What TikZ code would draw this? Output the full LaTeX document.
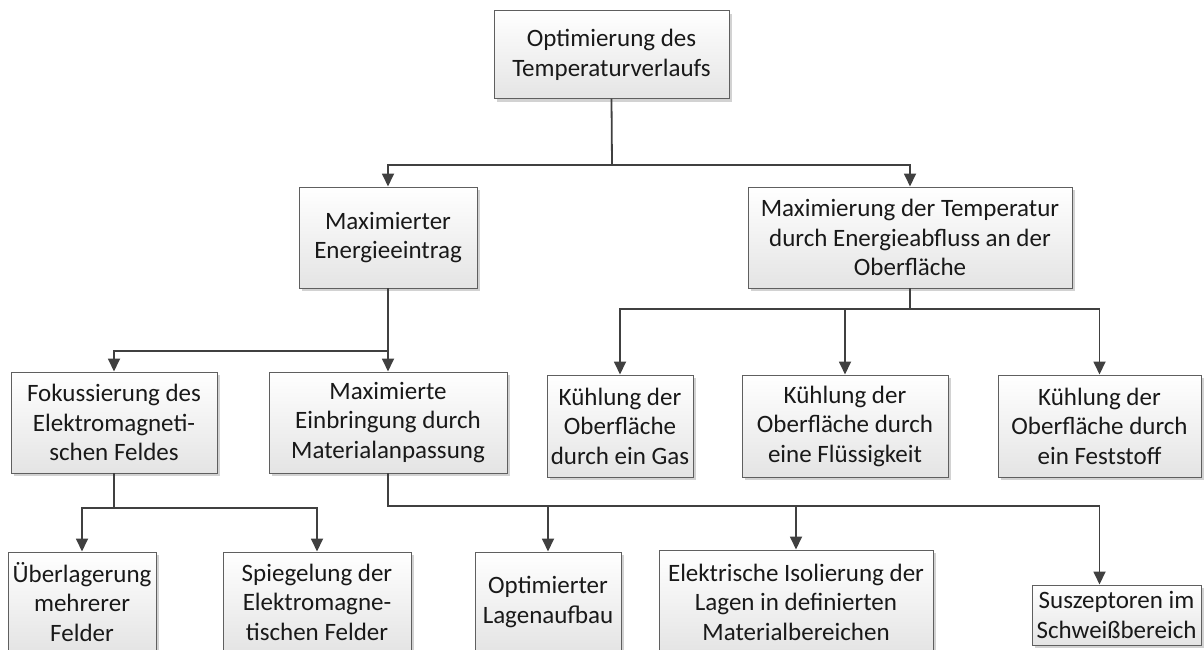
\documentclass[tikz,border=0pt]{standalone}
\usepackage{fontspec}
\setmainfont{Carlito}
\usetikzlibrary{arrows.meta,shadows}
\definecolor{linegray}{HTML}{404040}
\definecolor{boxborder}{HTML}{5F5F5F}
\definecolor{boxbottom}{HTML}{E4E4E4}
\definecolor{shadowgray}{HTML}{D2D2D2}

\begin{document}
\begin{tikzpicture}[x=1pt,y=-1pt,
  box/.style={draw=boxborder, line width=1pt, top color=white, bottom color=boxbottom,
    align=center, inner sep=0pt, text=black!90,
    font=\fontsize{25}{29.5}\selectfont,
    drop shadow={shadow xshift=3pt, shadow yshift=-3pt, fill=shadowgray, opacity=1}},
  link/.style={draw=linegray, line width=1.8pt, line cap=rect},
  arr/.style={link, -{Triangle[length=13pt,width=12pt]}}]

\useasboundingbox (0,0) rectangle (1204,650);
\clip (0,0) rectangle (1204,650);

% level 0
\node[box, minimum width=235pt, minimum height=88pt] (top) at (611.5,55)
  {Optimierung des\\Temperaturverlaufs};

% level 1
\node[box, minimum width=178pt, minimum height=101pt] (ene) at (388,237.5)
  {Maximierter\\Energieeintrag};
\node[box, minimum width=324pt, minimum height=101pt] (abf) at (910,237.5)
  {Maximierung der Temperatur\\durch Energieabfluss an der\\Oberfläche};

% level 2
\node[box, minimum width=206pt, minimum height=101pt] (fok) at (114,422.5)
  {Fokussierung des\\Elektromagneti-\\schen Feldes};
\node[box, minimum width=238pt, minimum height=101pt] (ein) at (388,422.5)
  {Maximierte\\Einbringung durch\\Materialanpassung};
\node[box, minimum width=146pt, minimum height=102pt] (gas) at (620,426)
  {Kühlung der\\Oberfläche\\durch ein Gas};
\node[box, minimum width=206pt, minimum height=102pt] (fl) at (845,426)
  {Kühlung der\\Oberfläche durch\\eine Flüssigkeit};
\node[box, minimum width=203pt, minimum height=102pt] (fest) at (1099.5,426)
  {Kühlung der\\Oberfläche durch\\ein Feststoff};

% level 3
\node[box, minimum width=148pt, minimum height=100pt] (ueb) at (82,602)
  {Überlagerung\\mehrerer\\Felder};
\node[box, minimum width=188pt, minimum height=100pt] (spi) at (317,602)
  {Spiegelung der\\Elektromagne-\\tischen Felder};
\node[box, minimum width=146pt, minimum height=100pt] (lag) at (548,602)
  {Optimierter\\Lagenaufbau};
\node[box, minimum width=274pt, minimum height=104pt] (iso) at (796,602)
  {Elektrische Isolierung der\\Lagen in definierten\\Materialbereichen};
\node[box, minimum width=169pt, minimum height=60pt] (sus) at (1116.5,615)
  {Suszeptoren im\\Schweißbereich};

% junction points of the connectors
\coordinate (j1) at (612,165);
\coordinate (j2) at (388,351);
\coordinate (j3) at (910,309);
\coordinate (j4) at (114,508);
\coordinate (j5) at (388,506);

% connectors
\draw[link] (top.south) -- (j1);
\draw[arr] (j1) -| (ene.north);
\draw[arr] (j1) -| (abf.north);

\draw[arr] (ene.south) -- (ein.north);
\draw[arr] (j2) -| (fok.north);

\draw[link] (abf.south) -- (j3);
\draw[arr] (j3) -| (gas.north);
\draw[arr] (j3) -| (fl.north);
\draw[arr] (j3) -| (fest.north);

\draw[link] (fok.south) -- (j4);
\draw[arr] (j4) -| (ueb.north);
\draw[arr] (j4) -| (spi.north);

\draw[link] (ein.south) -- (j5);
\draw[arr] (j5) -| (lag.north);
\draw[arr] (j5) -| (iso.north);
\draw[arr] (j5) -| (sus.north -| fest.north);
\end{tikzpicture}
\end{document}
